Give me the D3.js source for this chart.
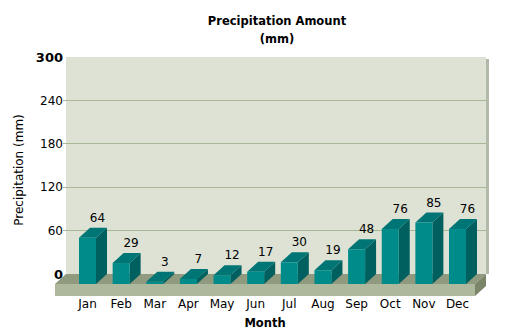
<!DOCTYPE html>
<html><head><meta charset="utf-8">
<script src="https://cdn.jsdelivr.net/npm/d3@7"></script>
<style>body{margin:0;background:#fff}svg{display:block}text{font-family:"DejaVu Sans",Verdana,sans-serif}</style>
</head><body>
<svg id="c" width="517" height="335"></svg>
<script>
const months = ["Jan","Feb","Mar","Apr","May","Jun","Jul","Aug","Sep","Oct","Nov","Dec"];
const precipitation = [64,29,3,7,12,17,30,19,48,76,85,76];
const yTicks = [0,60,120,180,240,300];
const title = ["Precipitation Amount","(mm)"];
const xTitle = "Month", yTitle = "Precipitation (mm)";

const svg = d3.select("#c");
const dx = 11, dy = 10;           // 3D depth offset
const wallL = 66, wallR = 486, wallT = 57;
const y = d3.scaleLinear().domain([0,300]).range([274,57]);
const x = d3.scalePoint().domain(months).range([87.5,457.5]);
const bw = 17;

// back wall
svg.append("rect").attr("x",wallR).attr("y",wallT+2).attr("width",3).attr("height",y(0)-wallT-2).attr("fill","#b1b9a9");
svg.append("rect").attr("x",wallL).attr("y",wallT).attr("width",wallR-wallL).attr("height",y(0)-wallT).attr("fill","#dde2d4");
// gridlines
svg.selectAll("line.g").data(yTicks.filter(t=>t>0&&t<300)).join("line")
  .attr("x1",wallL-3).attr("x2",wallR).attr("y1",d=>y(d)).attr("y2",d=>y(d))
  .attr("stroke","#a9b894").attr("stroke-width",1).attr("shape-rendering","crispEdges");
// y labels
svg.selectAll("text.yt").data(yTicks).join("text")
  .attr("x",63).attr("y",d=>y(d)).attr("dy","0.35em").attr("text-anchor","end")
  .attr("font-size",d=>(d===0||d===300)?"13px":"12px")
  .attr("font-weight",d=>(d===0||d===300)?"bold":"normal")
  .attr("fill","#000").text(d=>d);

// floor
const fL = wallL-dx, fR = wallR-dx, fTop = y(0), fFront = y(0)+dy, fBot = fFront+12;
svg.append("path").attr("d",`M${wallL},${fTop}L${wallR},${fTop}L${fR},${fFront}L${fL},${fFront}Z`).attr("fill","#8f9a7e");
svg.append("rect").attr("x",fL).attr("y",fFront).attr("width",fR-fL).attr("height",fBot-fFront).attr("fill","#adb89c");
svg.append("path").attr("d",`M${fR},${fFront}L${wallR},${fTop}L${wallR},${fTop+12}L${fR},${fBot}Z`).attr("fill","#7b856a");

// bars
const g = svg.append("g");
precipitation.forEach((v,i)=>{
  const cx = x(months[i]);
  const x0 = cx-bw/2, x1 = cx+bw/2;
  const yb = y(0)+dy, yt = y(v)+dy;
  const b = g.append("g");
  b.append("path").attr("d",`M${x1},${yt}L${x1+dx},${yt-dy}L${x1+dx},${yb-dy}L${x1},${yb}Z`).attr("fill","#005f5f");
  b.append("path").attr("d",`M${x0},${yt}L${x0+dx},${yt-dy}L${x1+dx},${yt-dy}L${x1},${yt}Z`).attr("fill","#007575");
  b.append("rect").attr("x",x0).attr("y",yt).attr("width",bw).attr("height",yb-yt).attr("fill","#008b8b");
  b.append("text").attr("x",cx+10).attr("y",y(v)-6).attr("text-anchor","middle")
    .attr("font-size","12px").attr("fill","#000").text(v);
});

// x labels
svg.selectAll("text.xl").data(months).join("text")
  .attr("x",d=>x(d)).attr("y",308).attr("text-anchor","middle").attr("font-size","12px").attr("fill","#000").text(d=>d);

// titles
svg.append("text").attr("x",277).attr("y",25).attr("text-anchor","middle").attr("font-size","11.5px").attr("font-weight","bold").text(title[0]);
svg.append("text").attr("x",277).attr("y",43).attr("text-anchor","middle").attr("font-size","11.5px").attr("font-weight","bold").text(title[1]);
svg.append("text").attr("x",265).attr("y",327).attr("text-anchor","middle").attr("font-size","11.5px").attr("font-weight","bold").text(xTitle);
svg.append("text").attr("transform","translate(23,170) rotate(-90)").attr("text-anchor","middle").attr("font-size","12px").text(yTitle);
</script>
</body></html>
